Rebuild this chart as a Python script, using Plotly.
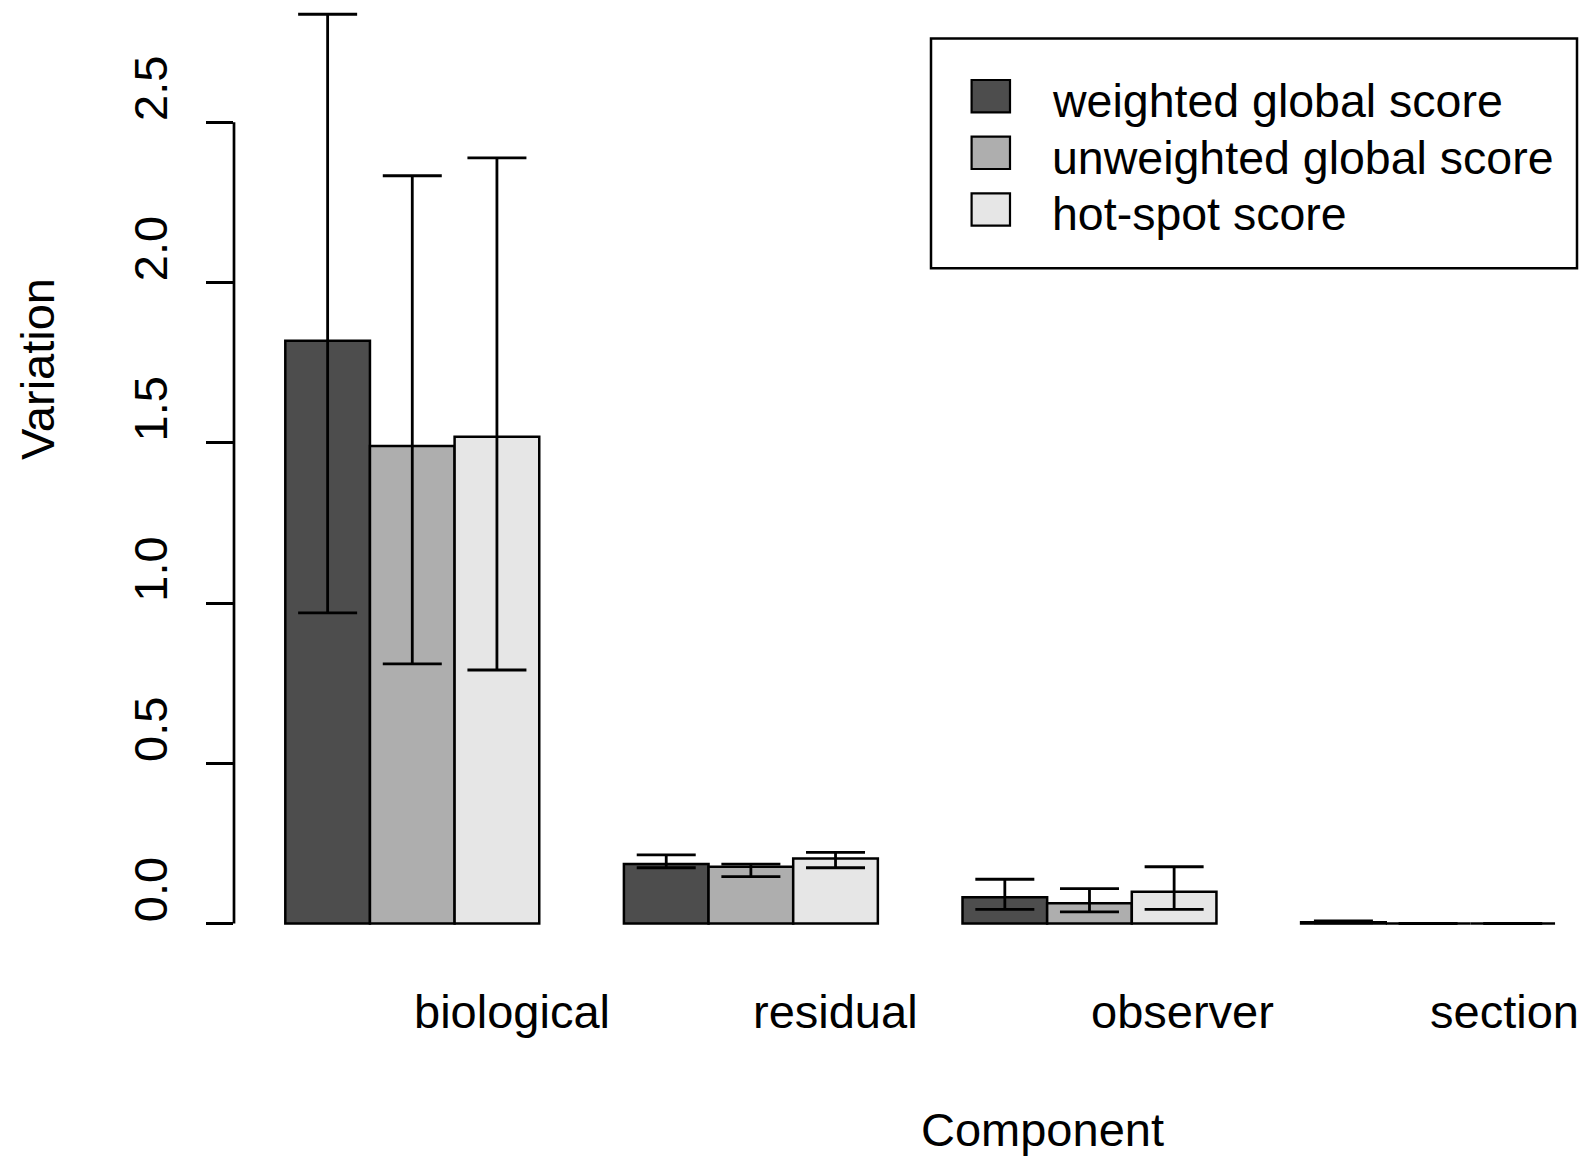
import plotly.graph_objects as go

# ---------------- data ----------------
components = ["biological", "residual", "observer", "section"]
series_names = ["weighted global score", "unweighted global score", "hot-spot score"]
series_colors = ["#4D4D4D", "#AEAEAE", "#E6E6E6"]

weighted = [1.818, 0.186, 0.082, 0.004]
weighted_lo = [0.969, 0.174, 0.044, 0.002]
weighted_hi = [2.837, 0.214, 0.138, 0.008]

unweighted = [1.490, 0.177, 0.063, 0.0]
unweighted_lo = [0.810, 0.146, 0.036, 0.0]
unweighted_hi = [2.333, 0.185, 0.109, 0.0]

hotspot = [1.519, 0.203, 0.099, 0.0]
hotspot_lo = [0.791, 0.174, 0.044, 0.0]
hotspot_hi = [2.389, 0.222, 0.177, 0.0]

y_tickvals = [0.0, 0.5, 1.0, 1.5, 2.0, 2.5]
y_ticktext = ["0.0", "0.5", "1.0", "1.5", "2.0", "2.5"]

values = [weighted, unweighted, hotspot]
lows = [weighted_lo, unweighted_lo, hotspot_lo]
highs = [weighted_hi, unweighted_hi, hotspot_hi]

# ---------------- layout geometry ----------------
W, H = 1587, 1157
ML, MT = 234, 0
PLOT_BOTTOM_PX = 940
MB = H - PLOT_BOTTOM_PX
MR = 0
plot_w = W - ML - MR
plot_h = PLOT_BOTTOM_PX - MT

bar_px = 84.65
first_left_px = 285.3
x_range = [(ML - first_left_px) / bar_px, (W - MR - first_left_px) / bar_px]

y0_px = 923.5
unit_px = 320.5
y_range = [(y0_px - PLOT_BOTTOM_PX) / unit_px, (y0_px - MT) / unit_px]

FONT = "Liberation Sans, Arial, Helvetica, sans-serif"
FS = 47


def px_x(px):
    return (px - ML) / plot_w


def px_y(py):
    return 1 - (py - MT) / plot_h


def data_x_to_paper(x):
    return (x - x_range[0]) / (x_range[1] - x_range[0])


group_centers = [1.5 + 4 * g for g in range(len(components))]

fig = go.Figure()
for j, name in enumerate(series_names):
    xs = [c + (j - 1) for c in group_centers]
    v = values[j]
    fig.add_trace(go.Bar(
        x=xs, y=v, width=1.0, name=name,
        marker=dict(color=series_colors[j], line=dict(color="black", width=2.5)),
        error_y=dict(type="data", symmetric=False,
                     array=[h - a for h, a in zip(highs[j], v)],
                     arrayminus=[a - l for a, l in zip(v, lows[j])],
                     color="black", thickness=2.8, width=29.5),
        showlegend=False,
    ))

shapes = []
# y axis line (R style: only from 0 to 2.5)
shapes.append(dict(type="line", xref="paper", yref="y", x0=0, x1=0,
                   y0=y_tickvals[0], y1=y_tickvals[-1],
                   line=dict(color="black", width=2.7)))

# manual legend (R style)
shapes.append(dict(type="rect", xref="paper", yref="paper",
                   x0=px_x(931), x1=px_x(1577), y0=px_y(268.2), y1=px_y(38.5),
                   line=dict(color="black", width=2.5), fillcolor="white"))
row_centers = [96.2, 152.8, 209.5]
annotations = []
for j, name in enumerate(series_names):
    cy = row_centers[j]
    shapes.append(dict(type="rect", xref="paper", yref="paper",
                       x0=px_x(971.6), x1=px_x(1010), y0=px_y(cy + 16.2), y1=px_y(cy - 16.2),
                       line=dict(color="black", width=2.2), fillcolor=series_colors[j]))
    annotations.append(dict(text=name, xref="paper", yref="paper",
                            x=px_x(1049.5), y=px_y(cy + 5), xanchor="left", yanchor="middle",
                            showarrow=False, font=dict(family=FONT, size=46.5, color="black")))

# category labels (left-aligned at group centers, as in the reference)
for c, lab in zip(group_centers, components):
    annotations.append(dict(text=lab, xref="paper", yref="paper",
                            x=data_x_to_paper(c), y=px_y(1011),
                            xanchor="left", xshift=0, yanchor="middle", showarrow=False,
                            font=dict(family=FONT, size=FS, color="black")))

# axis titles
annotations.append(dict(text="Component", xref="paper", yref="paper",
                        x=px_x(1042), y=px_y(1129), xanchor="center", yanchor="middle",
                        showarrow=False, font=dict(family=FONT, size=FS, color="black")))
annotations.append(dict(text="Variation", xref="paper", yref="paper",
                        x=px_x(38), y=px_y(369), xanchor="center", yanchor="middle",
                        textangle=-90, showarrow=False,
                        font=dict(family=FONT, size=FS, color="black")))

fig.update_layout(
    width=W, height=H,
    margin=dict(l=ML, r=MR, t=MT, b=MB, pad=0),
    paper_bgcolor="white", plot_bgcolor="white",
    barmode="overlay",
    shapes=shapes, annotations=annotations,
    xaxis=dict(range=x_range, showgrid=False, zeroline=False, showline=False,
               showticklabels=False, ticks="", fixedrange=True),
    yaxis=dict(range=y_range, showgrid=False, zeroline=False, showline=False,
               tickmode="array", tickvals=y_tickvals, ticktext=y_ticktext,
               ticks="outside", ticklen=27, tickwidth=2.7, tickcolor="black",
               tickangle=-90, ticklabelstandoff=20, ticklabelshift=-27,
               tickfont=dict(family=FONT, size=FS, color="black")),
)

fig.write_html("out.html")
